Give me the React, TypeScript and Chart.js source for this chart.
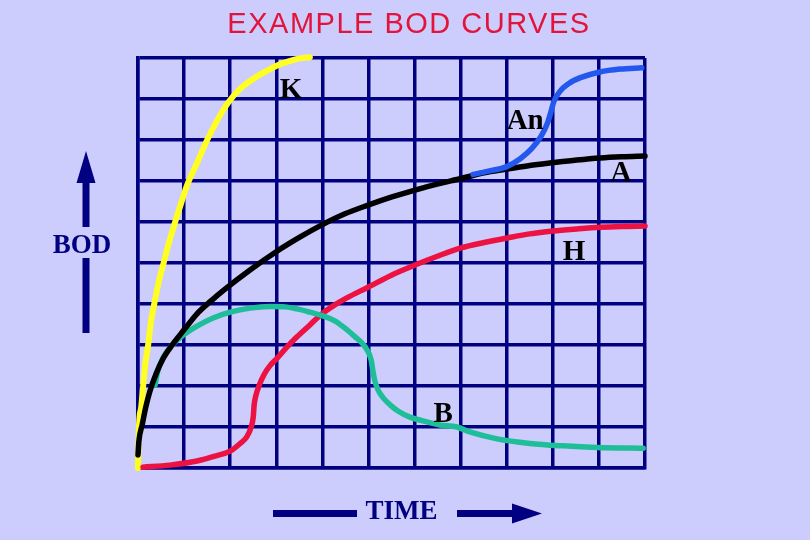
import React, { useEffect, useRef } from "react";
import { Chart, registerables } from "chart.js";

Chart.register(...registerables);

// ---- data (grid units: x = time, y = BOD) ----
const kX = [0, 0.01, 0.02, 0.07, 0.11, 0.15, 0.22, 0.28, 0.37, 0.46, 0.56, 0.67, 0.8, 0.93, 1.06, 1.28, 1.5, 1.71, 1.95, 2.21, 2.5, 2.78, 3.02, 3.3, 3.51, 3.73];
const kY = [0, 0.51, 1.0, 1.49, 1.98, 2.46, 3.0, 3.56, 4.1, 4.59, 5.02, 5.49, 5.98, 6.44, 6.88, 7.44, 8.0, 8.46, 8.9, 9.24, 9.49, 9.68, 9.82, 9.93, 9.99, 10.02];

const aX = [0, 0.02, 0.09, 0.17, 0.26, 0.39, 0.54, 0.74, 1.0, 1.28, 1.61, 1.84, 2.43, 2.99, 3.51, 3.99, 4.49, 4.99, 5.51, 6.01, 6.51, 7.01, 7.51, 8.01, 8.5, 9.03, 9.52, 10.02, 10.5, 11];
const aY = [0.32, 0.66, 1.05, 1.49, 1.88, 2.29, 2.66, 3.0, 3.37, 3.76, 4.1, 4.32, 4.83, 5.27, 5.63, 5.93, 6.2, 6.41, 6.61, 6.78, 6.93, 7.06, 7.2, 7.29, 7.38, 7.45, 7.51, 7.56, 7.59, 7.61];

const anX = [7.27, 7.6, 8.0, 8.3, 8.55, 8.75, 8.88, 8.95, 9.02, 9.15, 9.35, 9.6, 10.02, 10.46, 10.93];
const anY = [7.16, 7.24, 7.35, 7.55, 7.8, 8.1, 8.4, 8.65, 8.93, 9.18, 9.38, 9.52, 9.66, 9.73, 9.76];

const hX = [0.11, 0.69, 1.28, 1.67, 2.0, 2.21, 2.36, 2.45, 2.5, 2.52, 2.56, 2.63, 2.73, 2.86, 3.02, 3.23, 3.45, 3.73, 3.99, 4.27, 4.53, 4.99, 5.51, 6.01, 6.51, 7.01, 7.51, 8.01, 8.5, 9.0, 9.52, 10.02, 10.5, 11];
const hY = [0.02, 0.07, 0.17, 0.29, 0.41, 0.59, 0.76, 0.98, 1.24, 1.54, 1.78, 2.02, 2.27, 2.49, 2.68, 2.95, 3.2, 3.49, 3.76, 3.98, 4.15, 4.41, 4.71, 4.95, 5.17, 5.37, 5.5, 5.61, 5.71, 5.78, 5.83, 5.87, 5.89, 5.9];

const bX = [0.37, 0.43, 0.54, 0.74, 0.98, 1.28, 1.63, 2.0, 2.43, 2.86, 3.19, 3.45, 3.73, 4.01, 4.27, 4.49, 4.71, 4.86, 4.97, 5.06, 5.1, 5.14, 5.21, 5.32, 5.47, 5.64, 5.9, 6.18, 6.55, 6.92, 7.2, 7.79, 8.5, 9.22, 9.96, 10.96];
const bY = [2.02, 2.37, 2.68, 3.0, 3.24, 3.46, 3.66, 3.8, 3.9, 3.94, 3.93, 3.88, 3.8, 3.71, 3.59, 3.41, 3.2, 3.05, 2.88, 2.63, 2.34, 2.12, 1.9, 1.71, 1.54, 1.39, 1.24, 1.15, 1.05, 1.0, 0.88, 0.71, 0.6, 0.54, 0.5, 0.48];

const curveLabels = ["K", "An", "A", "H", "B"];
const labelX = [3.32, 8.4, 10.48, 9.46, 6.62];
const labelY = [9.02, 8.27, 7.0, 5.07, 1.12];

const titleText = "EXAMPLE BOD CURVES";
const yAxisText = "BOD";
const xAxisText = "TIME";

const NAVY = "#000080";
const BG = "#ccccfd";

const pts = (xs: number[], ys: number[]) => xs.map((x, i) => ({ x, y: ys[i] }));

const annotate = {
  id: "annotate",
  afterDatasetsDraw(chart: any) {
    const { ctx, chartArea, scales } = chart;
    const xs = scales.x;
    const ys = scales.y;
    ctx.save();
    // curve labels
    ctx.fillStyle = "#000";
    ctx.font = 'bold 29px "Liberation Serif", serif';
    ctx.textAlign = "center";
    ctx.textBaseline = "alphabetic";
    curveLabels.forEach((t, i) => {
      ctx.fillText(t, xs.getPixelForValue(labelX[i]), ys.getPixelForValue(labelY[i]));
    });

    // title
    ctx.fillStyle = "#e3143c";
    ctx.font = '29px "Liberation Sans", Arial, sans-serif';
    try { (ctx as any).letterSpacing = "1.5px"; } catch (e) {}
    ctx.fillText(titleText, 409, 33);
    try { (ctx as any).letterSpacing = "0px"; } catch (e) {}

    // BOD axis label + arrow
    const L = chartArea.left;
    const B = chartArea.bottom;
    ctx.fillStyle = NAVY;
    ctx.strokeStyle = NAVY;
    ctx.font = 'bold 27px "Liberation Serif", serif';
    ctx.fillText(yAxisText, L - 56, 253);
    ctx.lineWidth = 7;
    ctx.lineCap = "butt";
    const ax = L - 52;
    ctx.beginPath();
    ctx.moveTo(ax, 333);
    ctx.lineTo(ax, 258);
    ctx.moveTo(ax, 227);
    ctx.lineTo(ax, 180);
    ctx.stroke();
    ctx.beginPath();
    ctx.moveTo(ax, 151);
    ctx.lineTo(ax - 9.5, 183);
    ctx.lineTo(ax + 9.5, 183);
    ctx.closePath();
    ctx.fill();

    // TIME label + arrow
    ctx.fillText(xAxisText, 401.5, B + 51);
    const ty = B + 45.5;
    ctx.beginPath();
    ctx.moveTo(273, ty);
    ctx.lineTo(357, ty);
    ctx.moveTo(457, ty);
    ctx.lineTo(515, ty);
    ctx.stroke();
    ctx.beginPath();
    ctx.moveTo(542, ty);
    ctx.lineTo(512, ty - 10);
    ctx.lineTo(512, ty + 10);
    ctx.closePath();
    ctx.fill();
    ctx.restore();
  },
};

export default function App() {
  const ref = useRef<HTMLCanvasElement>(null);
  useEffect(() => {
    if (!ref.current) return;
    const line = (label: string, xs: number[], ys: number[], color: string, w: number, order: number) => ({
      label,
      data: pts(xs, ys),
      borderColor: color,
      backgroundColor: color,
      borderWidth: w,
      pointRadius: 0,
      showLine: true,
      cubicInterpolationMode: "monotone" as const,
      borderCapStyle: "round" as const,
      borderJoinStyle: "round" as const,
      order,
      clip: 6,
    });
    const chart = new Chart(ref.current, {
      type: "scatter",
      data: {
        datasets: [
          line("K", kX, kY, "#ffff22", 6, 4),
          line("A", aX, aY, "#000000", 5.5, 1),
          line("An", anX, anY, "#2258ee", 5.5, 0),
          line("H", hX, hY, "#ec1242", 5.5, 3),
          line("B", bX, bY, "#1ebf98", 5.5, 2),
        ],
      },
      options: {
        responsive: false,
        animation: false,
        devicePixelRatio: 1,
        layout: { padding: { left: 138, right: 165, top: 58, bottom: 72 } },
        plugins: { legend: { display: false }, tooltip: { enabled: false }, title: { display: false } },
        scales: {
          x: {
            type: "linear",
            min: 0,
            max: 11,
            ticks: { display: false, stepSize: 1 },
            grid: { color: NAVY, lineWidth: 3.5, drawTicks: false },
            border: { display: true, color: NAVY, width: 3.5 },
          },
          y: {
            type: "linear",
            min: 0,
            max: 10,
            ticks: { display: false, stepSize: 1 },
            grid: { color: NAVY, lineWidth: 3.5, drawTicks: false },
            border: { display: true, color: NAVY, width: 3.5 },
          },
        },
      },
      plugins: [annotate],
    });
    return () => chart.destroy();
  }, []);
  return (
    <div style={{ position: "fixed", left: 0, top: 0, width: 810, height: 540, background: BG }}>
      <canvas ref={ref} width={810} height={540} style={{ display: "block" }} />
    </div>
  );
}
